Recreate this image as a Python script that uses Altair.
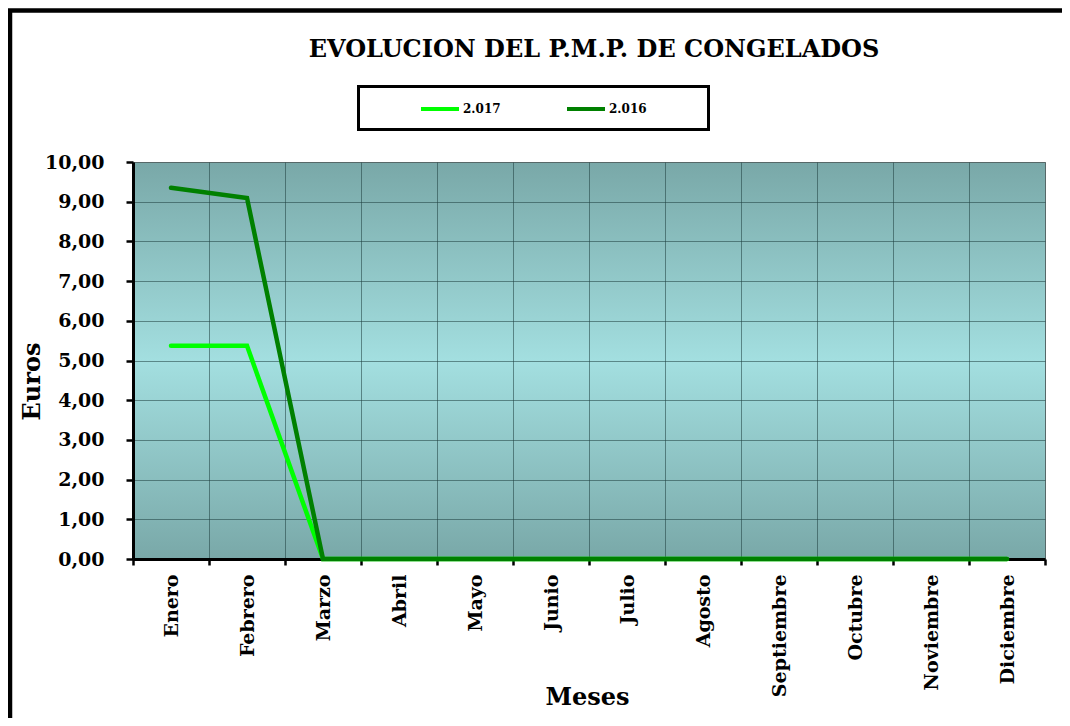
import altair as alt
import pandas as pd

months = ["Enero", "Febrero", "Marzo", "Abril", "Mayo", "Junio", "Julio",
          "Agosto", "Septiembre", "Octubre", "Noviembre", "Diciembre"]
series_names = ["2.017", "2.016"]
values_2017 = [5.37, 5.37, 0, 0, 0, 0, 0, 0, 0, 0, 0, 0]
values_2016 = [9.35, 9.09, 0, 0, 0, 0, 0, 0, 0, 0, 0, 0]
y_ticks = [0, 1, 2, 3, 4, 5, 6, 7, 8, 9, 10]
colors = ["#00ff00", "#008000"]

df = pd.DataFrame({
    "mes": months * 2,
    "serie": [series_names[0]] * 12 + [series_names[1]] * 12,
    "valor": values_2017 + values_2016,
})

W, H = 912, 397
FONT = "DejaVu Serif"

x_enc = alt.X(
    "mes:N", sort=months, bandPosition=0.5,
    scale=alt.Scale(type="band", domain=months, paddingInner=0, paddingOuter=0),
    axis=alt.Axis(tickBand="extent", labelAngle=270, labelPadding=9, tickSize=6,
                  grid=True, titleX=454, titleY=145, titleBaseline="alphabetic",
                  titleAlign="center", titleAngle=0),
    title="Meses",
)
y_enc = alt.Y(
    "valor:Q",
    scale=alt.Scale(domain=[0, 10], nice=False),
    axis=alt.Axis(values=y_ticks, tickSize=7, labelPadding=22,
                  labelExpr="replace(format(datum.value, '.2f'), '.', ',')",
                  titleX=-101, titleY=219, titleAngle=270, titleAlign="center",
                  titleBaseline="middle"),
    title="Euros",
)
color_enc = alt.Color(
    "serie:N",
    scale=alt.Scale(domain=series_names, range=colors),
    legend=alt.Legend(orient="none", legendX=286, legendY=-74, direction="horizontal",
                      title=None, symbolType="stroke", symbolSize=1444,
                      symbolStrokeWidth=4, labelFont=FONT, labelFontSize=12,
                      labelFontWeight="bold", labelColor="black", labelOffset=2,
                      columnPadding=58),
)

one = pd.DataFrame({"a": [0]})
border = alt.Chart(one).mark_rect(filled=False, stroke="black", strokeWidth=4.5).encode(
    x=alt.value(-123), x2=alt.value(2000), y=alt.value(-151.5), y2=alt.value(2000))
legend_box = alt.Chart(one).mark_rect(fill="white", stroke="black", strokeWidth=3).encode(
    x=alt.value(225.5), x2=alt.value(575.5), y=alt.value(-75.5), y2=alt.value(-32.5))

line_a = alt.Chart(df[df.serie == series_names[0]]).mark_line(
    strokeWidth=4.5, strokeCap="round").encode(x=x_enc, y=y_enc, color=color_enc)
line_b = alt.Chart(df[df.serie == series_names[1]]).mark_line(
    strokeWidth=4.5, strokeCap="round").encode(x=x_enc, y=y_enc, color=color_enc)

grad = ("{gradient: 'linear', x1: 0, y1: 0, x2: 0, y2: 1, stops: ["
        "{offset: 0, color: '#79a8a8'}, {offset: 0.5, color: '#a3dfe0'},"
        "{offset: 1, color: '#79a8a8'}]}")

chart = alt.layer(border, legend_box, line_a, line_b).properties(
    width=W, height=H,
    autosize=alt.AutoSizeParams(type="none"),
    padding={"left": 125, "top": 154, "right": 17, "bottom": 159},
    background="white",
    title=alt.TitleParams(
        "EVOLUCION DEL P.M.P. DE CONGELADOS", font=FONT, fontSize=24,
        fontWeight="bold", color="black", anchor="middle", frame="group",
        offset=0, baseline="alphabetic", dy=73, dx=5),
).configure_view(
    fill=alt.ExprRef(expr=grad), stroke="#999999", strokeWidth=1,
).configure_axis(
    labelFont=FONT, labelFontSize=19, labelFontWeight="bold", labelColor="black",
    titleFont=FONT, titleFontSize=24, titleFontWeight="bold", titleColor="black",
    domainColor="black", domainWidth=3, tickColor="black", tickWidth=2.5,
    gridColor="#1f4040", gridOpacity=0.55, gridWidth=1,
)

chart.save("out.html", embed_options={"renderer": "svg", "actions": False})
